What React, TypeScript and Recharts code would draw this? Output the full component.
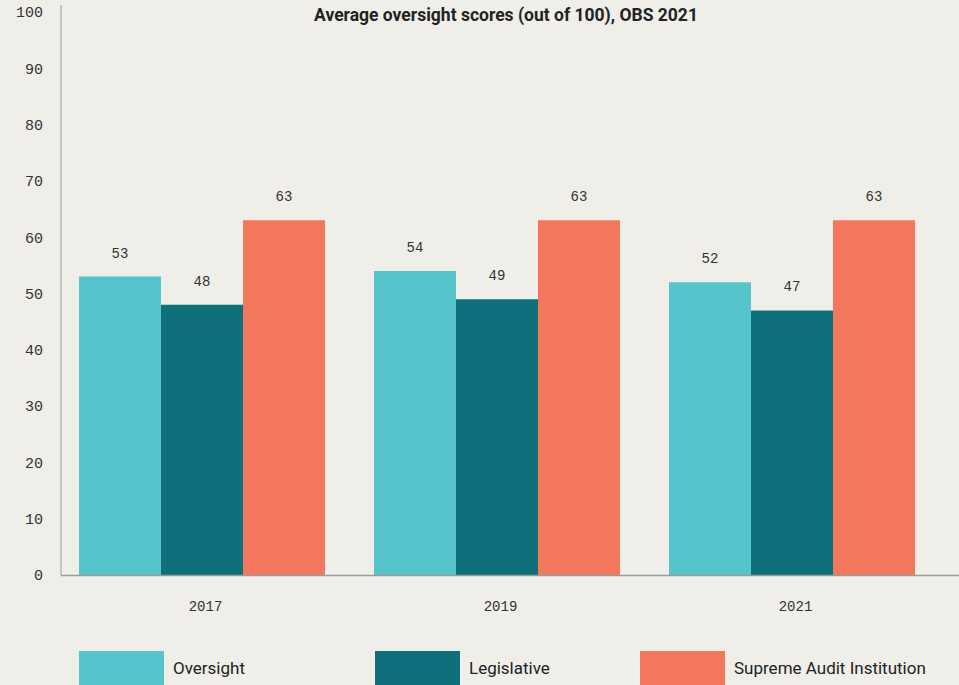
import { BarChart, Bar, XAxis, YAxis, LabelList } from "recharts";

const years = ["2017", "2019", "2021"];
const oversight = [53, 54, 52];
const legislative = [48, 49, 47];
const supremeAudit = [63, 63, 63];
const yTicks = [0, 10, 20, 30, 40, 50, 60, 70, 80, 90, 100];

const SERIES = [
  { key: "oversight", name: "Oversight", color: "#55c4cb" },
  { key: "legislative", name: "Legislative", color: "#0f6f7b" },
  { key: "sai", name: "Supreme Audit Institution", color: "#f3775c" },
];

const data = years.map((year, i) => ({
  year,
  oversight: oversight[i],
  legislative: legislative[i],
  sai: supremeAudit[i],
}));

const MONO = "'Liberation Mono', 'DejaVu Sans Mono', monospace";
const SANS = "Roboto, 'Noto Sans', sans-serif";

// legend swatch x positions as seen in the picture
const LEGEND_X = [79, 375, 640];

export default function App() {
  return (
    <div
      style={{
        position: "absolute",
        left: 0,
        top: 0,
        width: 959,
        height: 685,
        background: "#efeee9",
        overflow: "hidden",
      }}
    >
      <div
        style={{
          position: "absolute",
          top: 5,
          left: 0,
          width: 1012,
          textAlign: "center",
          fontFamily: SANS,
          fontWeight: 700,
          fontSize: 17.5,
          color: "#222",
        }}
      >
        Average oversight scores (out of 100), OBS 2021
      </div>

      <BarChart
        width={959}
        height={685}
        data={data}
        margin={{ top: 12, right: 20, left: 0, bottom: 0 }}
        barGap={0}
      >
        <XAxis
          dataKey="year"
          axisLine={false}
          tickLine={false}
          tickSize={0}
          tickMargin={26}
          height={110}
          tick={{ fontFamily: MONO, fontSize: 14, fill: "#333", dx: 4 }}
        />
        <YAxis
          domain={[0, 100]}
          ticks={yTicks}
          axisLine={false}
          tickLine={false}
          tickSize={0}
          tickMargin={11}
          width={54}
          tick={{ fontFamily: MONO, fontSize: 15, fill: "#333" }}
        />
        {SERIES.map((s) => (
          <Bar
            key={s.key}
            dataKey={s.key}
            name={s.name}
            fill={s.color}
            barSize={82}
            isAnimationActive={false}
          >
            <LabelList
              dataKey={s.key}
              position="top"
              offset={19}
              style={{ fontFamily: MONO, fontSize: 14, fill: "#333" }}
            />
          </Bar>
        ))}
      </BarChart>

      <svg
        width={959}
        height={685}
        style={{ position: "absolute", left: 0, top: 0, pointerEvents: "none" }}
      >
        <line x1={61} y1={5} x2={61} y2={575} stroke="#9a9a9a" strokeWidth={1} />
        <line x1={61} y1={575.5} x2={959} y2={575.5} stroke="#9a9a9a" strokeWidth={1.5} />
      </svg>

      {SERIES.map((s, i) => (
        <div key={s.key}>
          <div
            style={{
              position: "absolute",
              left: LEGEND_X[i],
              top: 651,
              width: 85,
              height: 40,
              background: s.color,
            }}
          />
          <div
            style={{
              position: "absolute",
              left: LEGEND_X[i] + 94,
              top: 658,
              fontFamily: SANS,
              fontSize: 17,
              color: "#222",
              whiteSpace: "nowrap",
            }}
          >
            {s.name}
          </div>
        </div>
      ))}
    </div>
  );
}
